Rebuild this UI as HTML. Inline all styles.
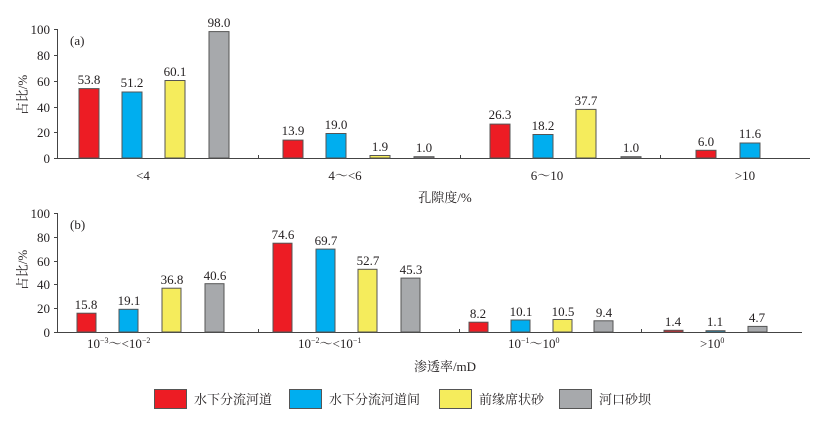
<!DOCTYPE html>
<html><head><meta charset="utf-8"><style>
body{margin:0;background:#fff}
svg{display:block}
text{font-family:"Liberation Serif","Noto Serif CJK SC",serif;fill:#231f20}
.t{font-size:13px}
.v{font-size:13px;text-anchor:middle}
.y{font-size:13px;text-anchor:end}
.r{fill:#ed1c24;stroke:#555;stroke-width:1}
.b{fill:#00aeef;stroke:#555;stroke-width:1}
.w{fill:#f5ec5c;stroke:#555;stroke-width:1}
.g{fill:#a7a9ac;stroke:#555;stroke-width:1}
</style></head><body>
<svg width="815" height="425" viewBox="0 0 815 425">
<!-- chart a -->
<g stroke="#444" stroke-width="1">
<line x1="57.5" y1="29" x2="57.5" y2="158.5"/>
<line x1="57" y1="158.5" x2="810" y2="158.5"/>
<line x1="54" y1="29.5" x2="57" y2="29.5"/><line x1="54" y1="55.5" x2="57" y2="55.5"/><line x1="54" y1="81.5" x2="57" y2="81.5"/><line x1="54" y1="107.5" x2="57" y2="107.5"/><line x1="54" y1="132.5" x2="57" y2="132.5"/><line x1="54" y1="158.5" x2="57" y2="158.5"/>
<line x1="258.5" y1="155" x2="258.5" y2="158"/><line x1="460.5" y1="155" x2="460.5" y2="158"/><line x1="660.5" y1="155" x2="660.5" y2="158"/>
</g>
<text class="y" x="50" y="34">100</text><text class="y" x="50" y="60">80</text><text class="y" x="50" y="86">60</text><text class="y" x="50" y="112">40</text><text class="y" x="50" y="137">20</text><text class="y" x="50" y="163">0</text>
<text class="t" x="70" y="45">(a)</text>
<text class="t" transform="translate(27,95) rotate(-90)" text-anchor="middle">占比/%</text>
<rect class="r" x="79" y="88.6" width="20" height="69.4"/><rect class="b" x="122" y="92" width="20" height="66"/><rect class="w" x="165" y="80.5" width="20" height="77.5"/><rect class="g" x="209" y="31.6" width="20" height="126.4"/>
<rect class="r" x="283" y="140.1" width="20" height="17.9"/><rect class="b" x="326" y="133.5" width="20" height="24.5"/><rect class="w" x="370" y="155.5" width="20" height="2.5"/><rect class="g" x="414" y="156.7" width="20" height="1.3"/>
<rect class="r" x="490" y="124.1" width="20" height="33.9"/><rect class="b" x="533" y="134.5" width="20" height="23.5"/><rect class="w" x="576" y="109.4" width="20" height="48.6"/><rect class="g" x="621" y="156.7" width="20" height="1.3"/>
<rect class="r" x="696" y="150.3" width="20" height="7.7"/><rect class="b" x="740" y="143" width="20" height="15"/>
<text class="v" x="89" y="84">53.8</text><text class="v" x="132" y="87">51.2</text><text class="v" x="175" y="76">60.1</text><text class="v" x="219" y="27">98.0</text>
<text class="v" x="293" y="135">13.9</text><text class="v" x="336" y="129">19.0</text><text class="v" x="380" y="151">1.9</text><text class="v" x="424" y="152">1.0</text>
<text class="v" x="500" y="119">26.3</text><text class="v" x="543" y="130">18.2</text><text class="v" x="586" y="105">37.7</text><text class="v" x="631" y="152">1.0</text>
<text class="v" x="706" y="146">6.0</text><text class="v" x="750" y="138">11.6</text>
<text class="v" x="143" y="180">&lt;4</text><text class="v" x="345" y="180">4～&lt;6</text><text class="v" x="547" y="180">6～10</text><text class="v" x="745" y="180">&gt;10</text>
<text class="v" x="445" y="202">孔隙度/%</text>
<!-- chart b -->
<g stroke="#444" stroke-width="1">
<line x1="57.5" y1="213" x2="57.5" y2="332.5"/>
<line x1="57" y1="332.5" x2="802" y2="332.5"/>
<line x1="54" y1="213.5" x2="57" y2="213.5"/><line x1="54" y1="237.5" x2="57" y2="237.5"/><line x1="54" y1="261.5" x2="57" y2="261.5"/><line x1="54" y1="284.5" x2="57" y2="284.5"/><line x1="54" y1="308.5" x2="57" y2="308.5"/><line x1="54" y1="332.5" x2="57" y2="332.5"/>
<line x1="258.5" y1="329" x2="258.5" y2="332"/><line x1="459.5" y1="329" x2="459.5" y2="332"/><line x1="641.5" y1="329" x2="641.5" y2="332"/>
</g>
<text class="y" x="50" y="218">100</text><text class="y" x="50" y="242">80</text><text class="y" x="50" y="266">60</text><text class="y" x="50" y="289">40</text><text class="y" x="50" y="313">20</text><text class="y" x="50" y="337">0</text>
<text class="t" x="70" y="229">(b)</text>
<text class="t" transform="translate(27,270) rotate(-90)" text-anchor="middle">占比/%</text>
<rect class="r" x="77" y="313.2" width="19" height="18.8"/><rect class="b" x="119" y="309.3" width="19" height="22.7"/><rect class="w" x="162" y="288.2" width="19" height="43.8"/><rect class="g" x="205" y="283.7" width="19" height="48.3"/>
<rect class="r" x="273" y="243.2" width="19" height="88.8"/><rect class="b" x="316" y="249.1" width="19" height="82.9"/><rect class="w" x="358" y="269.3" width="19" height="62.7"/><rect class="g" x="401" y="278.1" width="19" height="53.9"/>
<rect class="r" x="469" y="322.2" width="19" height="9.8"/><rect class="b" x="511" y="320" width="19" height="12"/><rect class="w" x="553" y="319.5" width="19" height="12.5"/><rect class="g" x="594" y="320.8" width="19" height="11.2"/>
<rect class="r" x="664" y="330.3" width="19" height="1.7"/><rect class="b" x="706" y="330.7" width="19" height="1.3"/><rect class="g" x="748" y="326.4" width="19" height="5.6"/>
<text class="v" x="86" y="309">15.8</text><text class="v" x="129" y="305">19.1</text><text class="v" x="172" y="284">36.8</text><text class="v" x="215" y="280">40.6</text>
<text class="v" x="283" y="239">74.6</text><text class="v" x="326" y="245">69.7</text><text class="v" x="368" y="265">52.7</text><text class="v" x="411" y="274">45.3</text>
<text class="v" x="478" y="318">8.2</text><text class="v" x="521" y="316">10.1</text><text class="v" x="563" y="316">10.5</text><text class="v" x="604" y="317">9.4</text>
<text class="v" x="673" y="326">1.4</text><text class="v" x="715" y="326">1.1</text><text class="v" x="757" y="322">4.7</text>
<text class="t" x="87" y="348">10<tspan font-size="8" dy="-5">−3</tspan><tspan dy="5">～&lt;10</tspan><tspan font-size="8" dy="-5">−2</tspan></text>
<text class="t" x="298" y="348">10<tspan font-size="8" dy="-5">−2</tspan><tspan dy="5">～&lt;10</tspan><tspan font-size="8" dy="-5">−1</tspan></text>
<text class="t" x="508" y="348">10<tspan font-size="8" dy="-5">−1</tspan><tspan dy="5">～10</tspan><tspan font-size="8" dy="-5">0</tspan></text>
<text class="t" x="700" y="348">&gt;10<tspan font-size="8" dy="-5">0</tspan></text>
<text class="v" x="445" y="371">渗透率/mD</text>
<!-- legend -->
<rect class="r" x="154.5" y="389.5" width="32" height="19"/><text class="t" x="194" y="404">水下分流河道</text>
<rect class="b" x="289.5" y="389.5" width="32" height="19"/><text class="t" x="329" y="404">水下分流河道间</text>
<rect class="w" x="439.5" y="389.5" width="32" height="19"/><text class="t" x="479" y="404">前缘席状砂</text>
<rect class="g" x="559.5" y="389.5" width="32" height="19"/><text class="t" x="599" y="404">河口砂坝</text>
</svg>
</body></html>
